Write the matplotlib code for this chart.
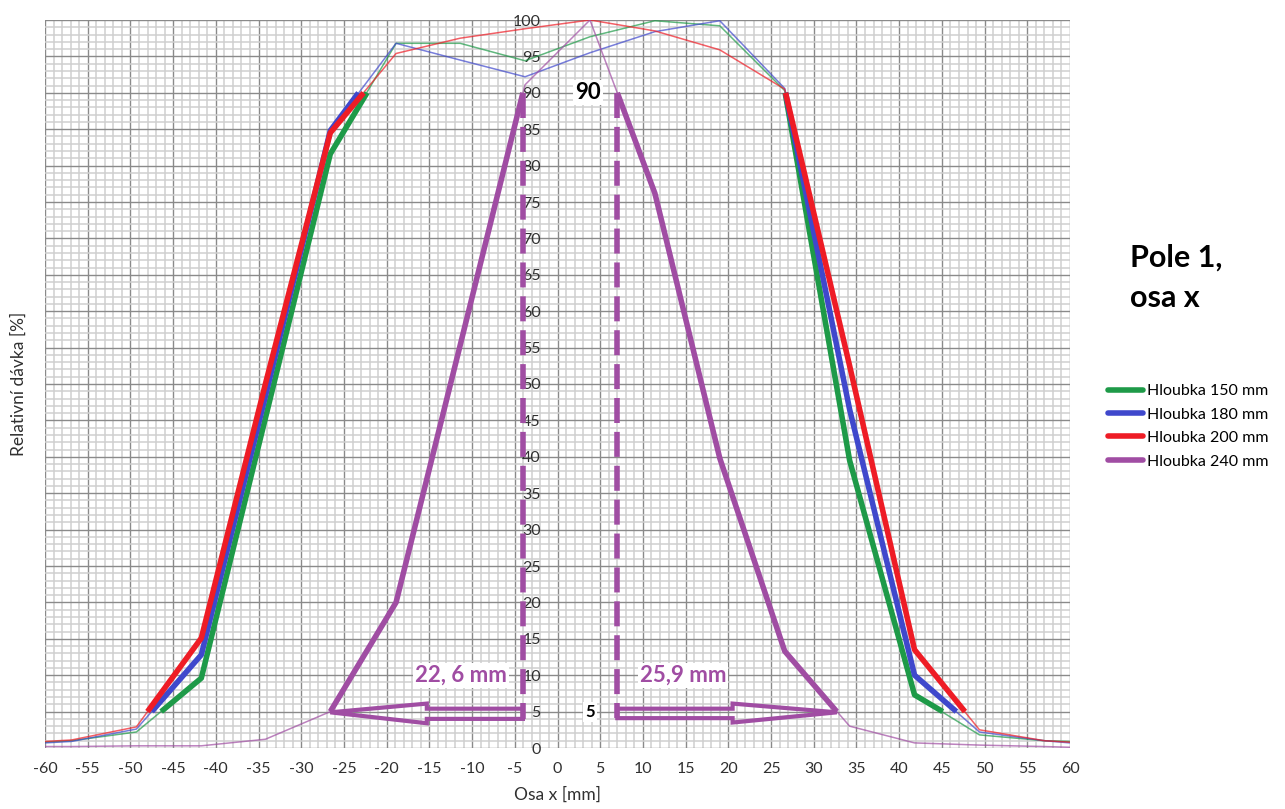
import matplotlib
matplotlib.use("Agg")
import matplotlib.pyplot as plt
from matplotlib.patches import Polygon
from matplotlib.ticker import MultipleLocator

plt.rcParams['font.family'] = ['Lato', 'DejaVu Sans']
plt.rcParams['axes.unicode_minus'] = False

# ---- data ----
x_pos = [-60, -56.9, -49.3, -41.7, -34.2, -26.6, -18.9, -11.4, -3.8, 3.8,
         11.4, 19.0, 26.6, 34.2, 41.8, 49.4, 57.0, 60]
d150 = [0.8, 1.0, 2.2, 9.6, 45.3, 81.6, 96.8, 96.8, 94.4, 97.7,
        99.9, 99.2, 90.3, 39.5, 7.3, 1.8, 1.0, 0.9]
d180 = [0.7, 0.9, 2.6, 12.8, 48.3, 84.8, 96.8, 94.5, 92.2, 95.5,
        98.4, 99.9, 90.6, 46.5, 10.0, 2.2, 1.0, 0.7]
d200 = [0.9, 1.1, 2.9, 15.1, 50.0, 84.5, 95.4, 97.5, 98.8, 100.0,
        98.5, 95.9, 90.5, 52.5, 13.5, 2.5, 1.0, 0.8]
d240 = [0.2, 0.2, 0.3, 0.3, 1.2, 5.0, 20.0, 55.3, 91.1, 100.0,
        76.2, 39.8, 13.3, 3.0, 0.7, 0.4, 0.2, 0.1]

# penumbra segments (5 % .. 90 %) highlighted with thick lines
p150_L_x = [-46.4, -41.7, -34.2, -26.6, -22.3]
p150_L_y = [5, 9.6, 45.3, 81.6, 90]
p150_R_x = [26.65, 34.2, 41.8, 45.1]
p150_R_y = [90, 39.5, 7.3, 5]
p180_L_x = [-47.5, -41.7, -34.2, -26.6, -23.3]
p180_L_y = [5, 12.8, 48.3, 84.8, 90]
p180_R_x = [26.7, 34.2, 41.8, 46.7]
p180_R_y = [90, 46.5, 10.0, 5]
p200_L_x = [-48.0, -41.7, -34.2, -26.6, -22.7]
p200_L_y = [5, 15.1, 50.0, 84.5, 90]
p200_R_x = [26.7, 34.2, 41.8, 47.7]
p200_R_y = [90, 52.5, 13.5, 5]
p240_L_x = [-26.6, -18.9, -11.4, -4.05]
p240_L_y = [5.0, 20.0, 55.3, 90]
p240_R_x = [7.0, 11.4, 19.0, 26.6, 32.7]
p240_R_y = [90, 76.2, 39.8, 13.3, 5]

labels = ['Hloubka 150 mm', 'Hloubka 180 mm', 'Hloubka 200 mm', 'Hloubka 240 mm']
colors = ['#1e9a48', '#3f48cc', '#ee1c25', '#a04da3']

x_ticks = list(range(-60, 61, 5))
y_ticks = list(range(0, 101, 5))

# ---- figure ----
fig = plt.figure(figsize=(12.85, 8.09), dpi=100)
ax = fig.add_axes([45 / 1285, 1 - 748 / 809, 1025 / 1285, 728 / 809])

ax.set_xlim(-60, 60)
ax.set_ylim(0, 100)
ax.xaxis.set_minor_locator(MultipleLocator(1))
ax.yaxis.set_minor_locator(MultipleLocator(1))
ax.set_xticks(x_ticks)
ax.set_yticks(y_ticks)
ax.grid(which='minor', color='#cfcfcf', lw=1.1)
ax.grid(which='major', color='#8a8a8a', lw=1.0)
ax.set_axisbelow(True)
for s in ax.spines.values():
    s.set_visible(False)
ax.spines['left'].set_position(('data', 0))
ax.tick_params(which='both', length=0)
ax.tick_params(axis='x', labelsize=11.5, pad=10, labelcolor='#303030')
ax.tick_params(axis='y', labelsize=11.5, pad=12, labelcolor='#303030')

series = [d150, d180, d200, d240]
pens = [(p150_L_x, p150_L_y, p150_R_x, p150_R_y),
        (p180_L_x, p180_L_y, p180_R_x, p180_R_y),
        (p200_L_x, p200_L_y, p200_R_x, p200_R_y),
        (p240_L_x, p240_L_y, p240_R_x, p240_R_y)]

for d, c in zip(series, colors):
    ax.plot(x_pos, d, color=c, lw=1.1, alpha=0.7, zorder=3)
for (lx, ly, rx, ry), c, lab in zip(pens, colors, labels):
    ax.plot(lx, ly, color=c, lw=4, solid_capstyle='butt', zorder=4, label=lab)
    ax.plot(rx, ry, color=c, lw=4, solid_capstyle='butt', zorder=4)

purple = colors[3]
# dashed verticals at the 90 % points of the 240 mm profile
ax.plot([p240_L_x[-1], p240_L_x[-1]], [90, 4.0], color=purple, lw=4,
        dashes=(4.5, 1.6), zorder=5)
ax.plot([p240_R_x[0], p240_R_x[0]], [90, 4.1], color=purple, lw=4,
        dashes=(4.5, 1.6), zorder=5)

# block arrows
left_arrow = [(p240_L_x[-1], 5.4), (-15.3, 5.4), (-15.3, 6.1), (p240_L_x[0], 4.9),
              (-15.3, 3.4), (-15.3, 4.0), (p240_L_x[-1], 4.0)]
right_arrow = [(p240_R_x[0], 5.4), (20.5, 5.4), (20.5, 6.1), (p240_R_x[-1], 4.9),
               (20.5, 3.5), (20.5, 4.1), (p240_R_x[0], 4.1)]
for pts in (left_arrow, right_arrow):
    ax.add_patch(Polygon(pts, closed=True, fill=False, edgecolor=purple, lw=3,
                         joinstyle='miter', zorder=5))

bbox_w = dict(facecolor='white', edgecolor='none', pad=1.5)
ax.text(-11.3, 10.0, '22, 6 mm', color=purple, fontsize=16, fontweight='bold',
        ha='center', va='center', bbox=bbox_w, zorder=6)
ax.text(14.7, 10.0, '25,9 mm', color=purple, fontsize=16, fontweight='bold',
        ha='center', va='center', bbox=bbox_w, zorder=6)
ax.text(3.6, 90.0, '90', color='black', fontsize=16, fontweight='bold',
        ha='center', va='center', bbox=bbox_w, zorder=6)
ax.text(3.8, 4.9, '5', color='black', fontsize=12, fontweight='bold',
        ha='center', va='center', bbox=bbox_w, zorder=6)

ax.set_xlabel('Osa x [mm]', fontsize=12.5, color='#303030')
ax.set_ylabel('Relativní dávka [%]', fontsize=12.5, color='#303030')
ax.xaxis.set_label_coords(0.5, -(787 - 748) / 728)
ax.yaxis.set_label_coords(-18 / 1025, 0.5)

fig.text(1130 / 1285, 1 - 258 / 809, 'Pole 1,', fontsize=22, fontweight='bold',
         ha='left', va='center')
fig.text(1130 / 1285, 1 - 298 / 809, 'osa x', fontsize=22, fontweight='bold',
         ha='left', va='center')

leg = ax.legend(loc='upper left', bbox_to_anchor=(1108 / 1285, 1 - 384 / 809),
                bbox_transform=fig.transFigure, frameon=False, fontsize=11.5,
                handlelength=2.2, handletextpad=0.25, labelspacing=0.58,
                borderaxespad=0, borderpad=0)
for h in leg.get_lines():
    h.set_linewidth(4)
    h.set_solid_capstyle('round')

fig.savefig('out.png', dpi=100)
